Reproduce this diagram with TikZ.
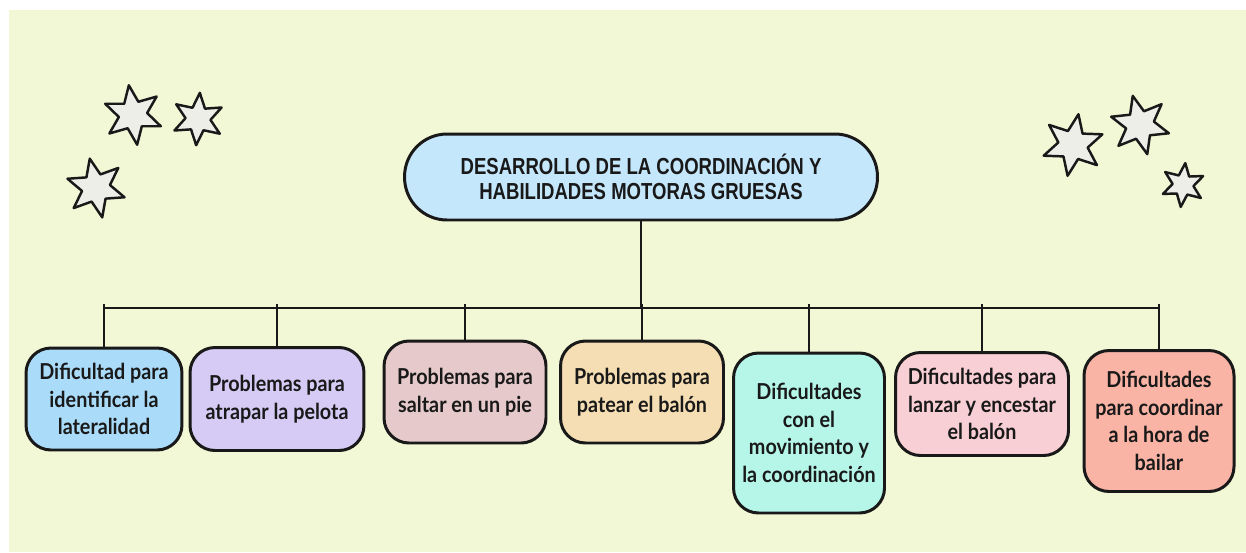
\documentclass[tikz,border=0pt]{standalone}
\usepackage{fontspec}
\setmainfont{Lato}
\newfontfamily\titlefont{Liberation Sans}[FakeStretch=0.8]
\newfontfamily\boxfont{Lato}[FakeStretch=0.9]
\usetikzlibrary{shapes.geometric}

\definecolor{bgyellow}{RGB}{242,247,213}
\definecolor{titleblue}{RGB}{197,231,251}
\definecolor{cblue}{RGB}{170,220,250}
\definecolor{clilac}{RGB}{213,203,245}
\definecolor{cmauve}{RGB}{230,202,203}
\definecolor{cpeach}{RGB}{245,222,180}
\definecolor{cmint}{RGB}{181,246,232}
\definecolor{cpink}{RGB}{248,207,213}
\definecolor{csalmon}{RGB}{249,180,166}
\definecolor{starfill}{RGB}{238,238,232}
\definecolor{ink}{RGB}{25,25,25}

\begin{document}
\begin{tikzpicture}[x=0.02cm, y=-0.02cm, every node/.style={text=ink},
  box/.style={draw=ink, line width=1.7pt, rounded corners=0.5cm, align=center, inner sep=2pt,
    font=\boxfont\bfseries\fontsize{12.5}{15.6}\selectfont},
  spark/.style={draw=ink, star, star points=6, star point ratio=2.1, fill=starfill,
    line width=1.4pt, line join=round, inner sep=0pt},
  link/.style={draw=ink, line width=1.6pt}]
  \useasboundingbox (0,0) rectangle (1246,552);
  % Background
  \fill[bgyellow] (9,10) rectangle (1246,552);

  % Title
  \node[box, fill=titleblue, minimum width=9.46cm, minimum height=1.72cm, rounded corners=0.85cm,
    font=\titlefont\bfseries\fontsize{13.2}{14.4}\selectfont] (title) at (641,177)
    {DESARROLLO DE LA COORDINACIÓN Y\\HABILIDADES MOTORAS GRUESAS};

  % Boxes
  \node[box, fill=cblue, minimum width=3.12cm, minimum height=2.04cm] (lat) at (104,399)
    {Dificultad para\\identificar la\\lateralidad};
  \node[box, fill=clilac, minimum width=3.48cm, minimum height=2.06cm] (pel) at (277,399)
    {Problemas para\\atrapar la pelota};
  \node[box, fill=cmauve, minimum width=3.24cm, minimum height=2.04cm] (pie) at (465,392)
    {Problemas para\\saltar en un pie};
  \node[box, fill=cpeach, minimum width=3.26cm, minimum height=2.04cm] (pat) at (642,392)
    {Problemas para\\patear el balón};
  \node[box, fill=cmint, minimum width=3.02cm, minimum height=3.2cm] (mov) at (809,433)
    {Dificultades\\con el\\movimiento y\\la coordinación};
  \node[box, fill=cpink, minimum width=3.46cm, minimum height=2.06cm] (lan) at (982,404)
    {Dificultades para\\lanzar y encestar\\el balón};
  \node[box, fill=csalmon, minimum width=3.0cm, minimum height=2.82cm] (bai) at (1159,421)
    {Dificultades\\para coordinar\\a la hora de\\bailar};

  % Connectors
  \coordinate (bus) at (641,308);
  \draw[link] (title.south) -- (bus);
  \draw[link] (lat.north |- bus) -- (bai.north |- bus);
  \foreach \b in {lat,pel,pie,pat,mov,lan,bai}
    \draw[link] (\b.north) -- (\b.north |- bus) -- ++(0,-4);

  % Stars
  \node[spark, minimum size=1.2cm, rotate=8] (s1) at (133,115) {};
  \node[spark, minimum size=1.05cm, rotate=-4] (s2) at (198,119) {};
  \node[spark, minimum size=1.2cm, rotate=12] (s3) at (96,188) {};
  \node[spark, minimum size=1.25cm, rotate=-10] (s4) at (1073,145) {};
  \node[spark, minimum size=1.2cm, rotate=14] (s5) at (1140,125) {};
  \node[spark, minimum size=0.88cm, rotate=-6] (s6) at (1183,185) {};
\end{tikzpicture}
\end{document}
